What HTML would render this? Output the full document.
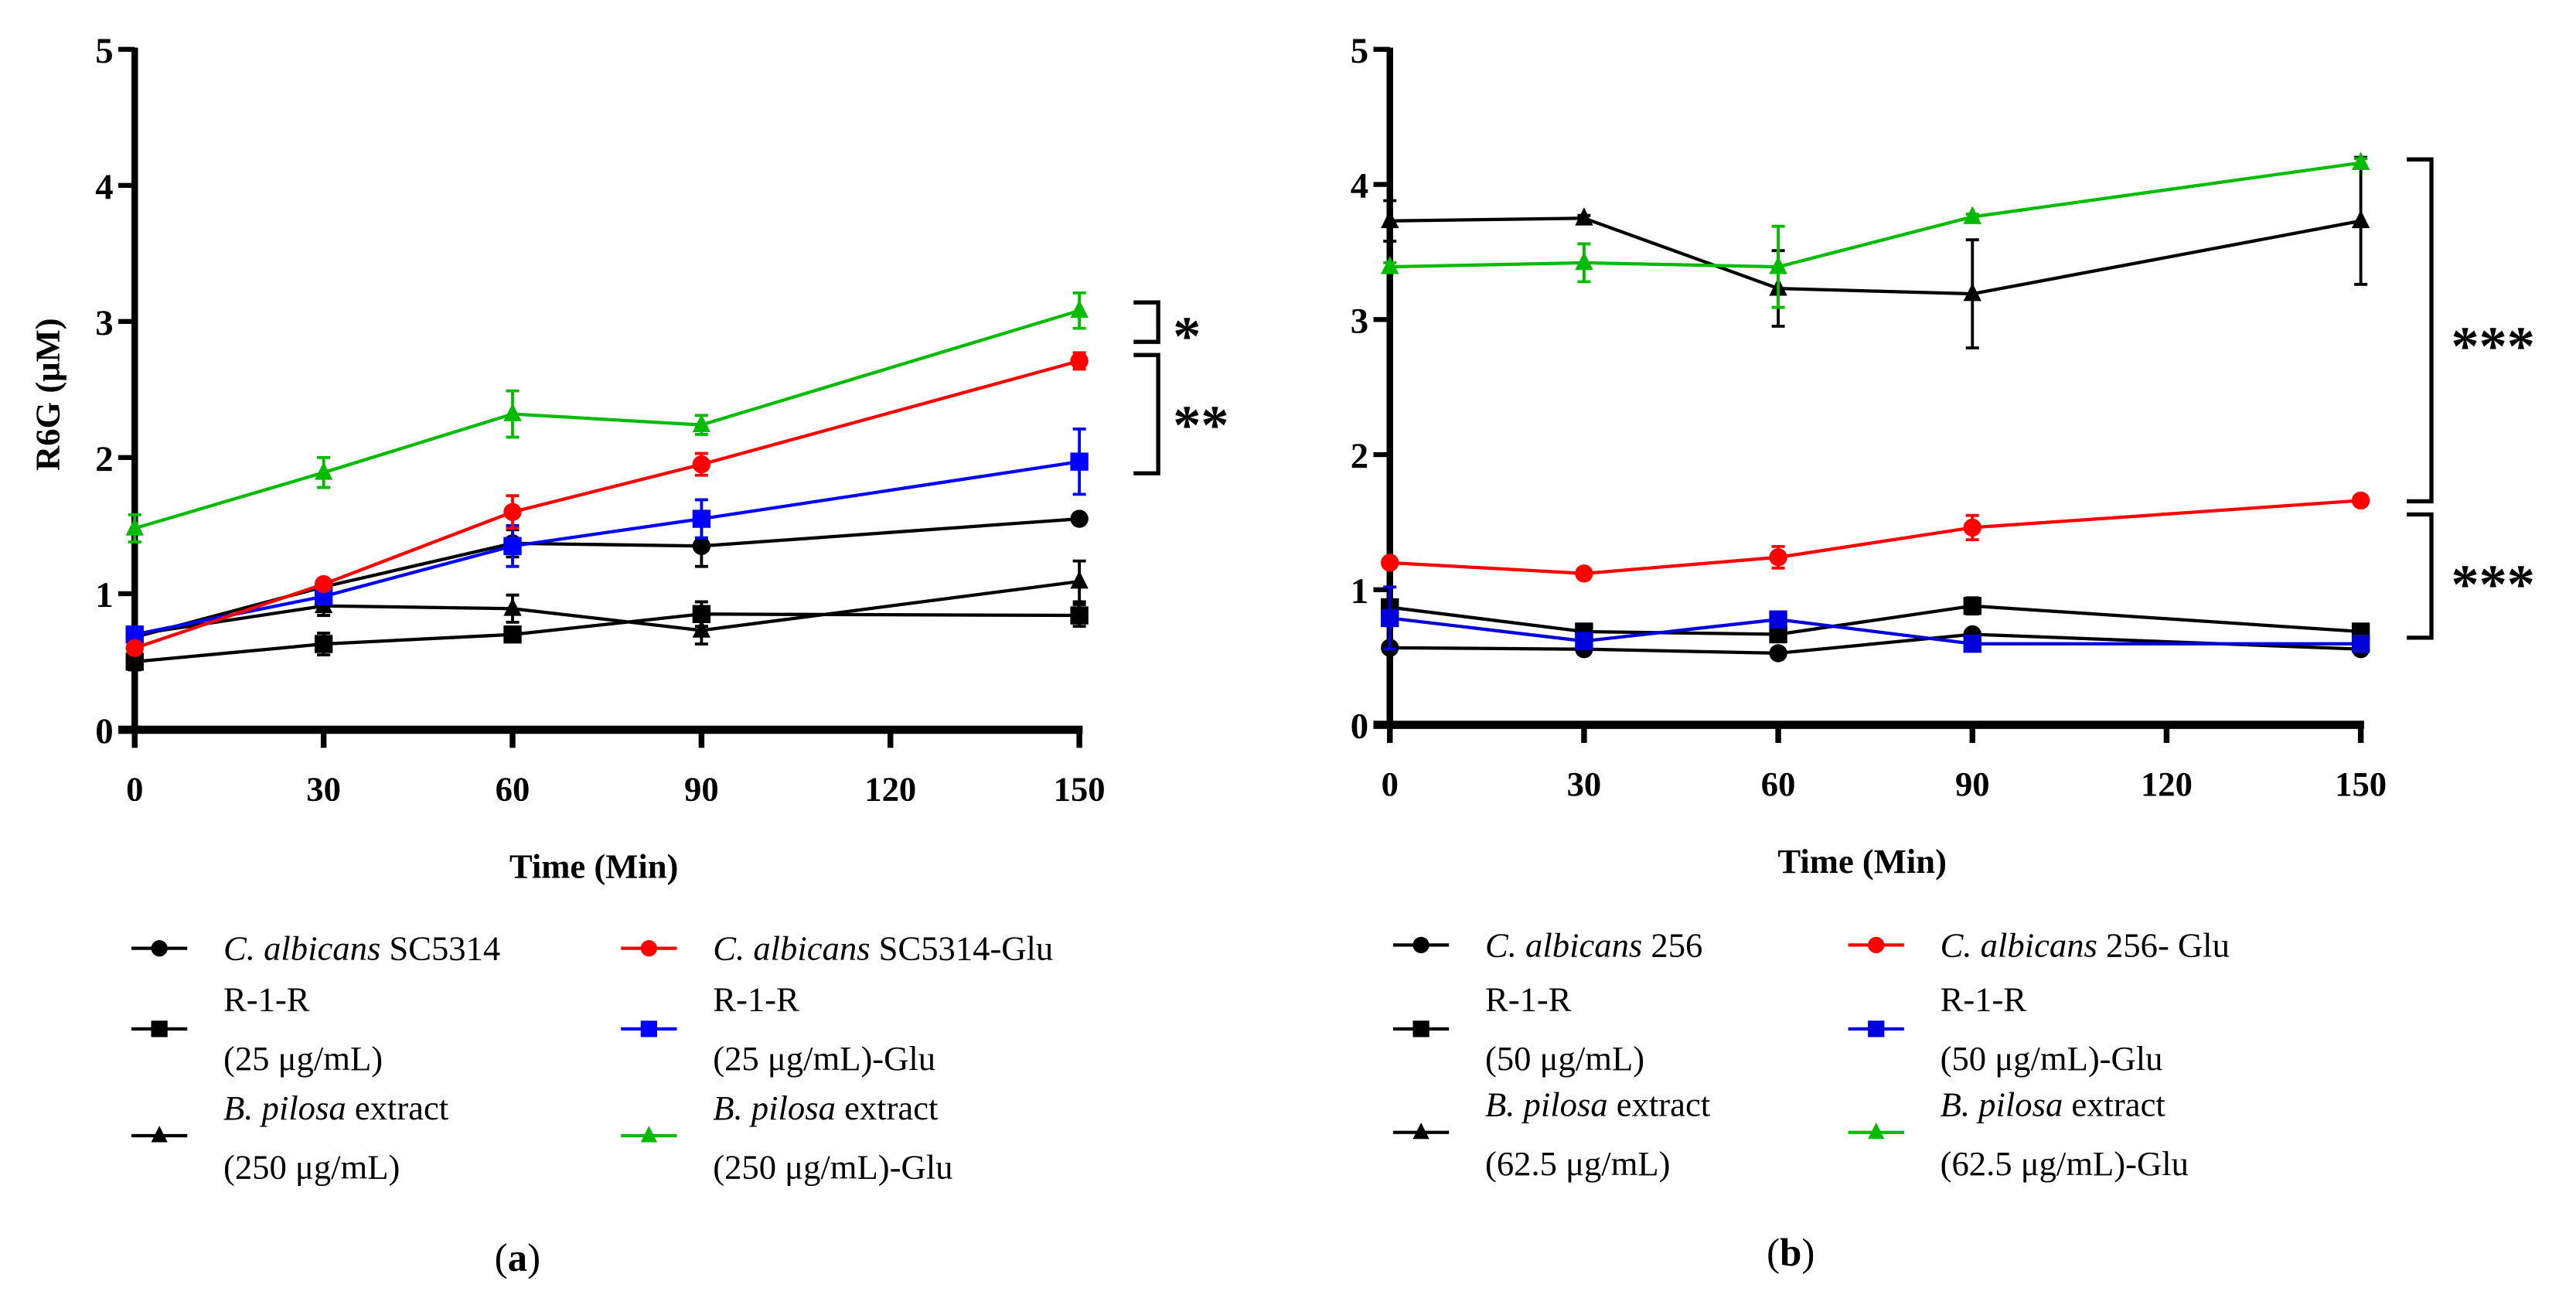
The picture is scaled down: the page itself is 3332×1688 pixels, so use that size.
<!DOCTYPE html>
<html><head><meta charset="utf-8"><style>
html,body{margin:0;padding:0;background:#fff;}
svg{display:block;}
text{font-family:"Liberation Serif",serif;}
</style></head><body>
<svg id="chart" width="3332" height="1688" viewBox="0 0 1568 794" preserveAspectRatio="none" xmlns="http://www.w3.org/2000/svg">
<g id="pa"></g>
<g id="pb"></g>
</svg>
<script>
const times = [0, 30, 60, 90, 150];
const xTicks = [0, 30, 60, 90, 120, 150];
const yTicks = [0, 1, 2, 3, 4, 5];
// Panel a values
const aCirc = [0.68, 1.05, 1.37, 1.35, 1.55];
const aCircErr = [0.02, 0.03, 0.1, 0.15, 0.02];
const aSq = [0.5, 0.63, 0.7, 0.85, 0.84];
const aSqErr = [0.06, 0.08, 0.03, 0.09, 0.08];
const aTri = [0.7, 0.91, 0.89, 0.73, 1.09];
const aTriErr = [0.03, 0.07, 0.1, 0.1, 0.15];
const aRed = [0.6, 1.07, 1.6, 1.95, 2.71];
const aRedErr = [0.03, 0.03, 0.12, 0.08, 0.06];
const aBlue = [0.7, 0.98, 1.35, 1.55, 1.97];
const aBlueErr = [0.03, 0.05, 0.15, 0.14, 0.24];
const aGreen = [1.48, 1.89, 2.32, 2.24, 3.08];
const aGreenErr = [0.1, 0.11, 0.17, 0.07, 0.13];
// Panel b values
const bCirc = [0.57, 0.56, 0.53, 0.67, 0.56];
const bCircErr = [0.02, 0.02, 0.02, 0.03, 0.02];
const bSq = [0.87, 0.69, 0.67, 0.88, 0.69];
const bSqErr = [0.05, 0.03, 0.03, 0.06, 0.02];
const bTri = [3.73, 3.75, 3.23, 3.19, 3.73];
const bTriErr = [0.15, 0.02, 0.28, 0.4, 0.47];
const bRed = [1.2, 1.12, 1.24, 1.46, 1.66];
const bRedErr = [0.03, 0.02, 0.08, 0.09, 0.02];
const bBlue = [0.79, 0.62, 0.78, 0.6, 0.6];
const bBlueErr = [0.23, 0.03, 0.03, 0.02, 0.03];
const bGreen = [3.39, 3.42, 3.39, 3.76, 4.16];
const bGreenErr = [0.03, 0.14, 0.3, 0.02, 0.03];

const NS = "http://www.w3.org/2000/svg";
function mk(parent, tag, attrs, txt){
  const e = document.createElementNS(NS, tag);
  for (const k in attrs) e.setAttribute(k, attrs[k]);
  if (txt !== undefined) e.textContent = txt;
  parent.appendChild(e);
  return e;
}
function marker(g, shape, cx, cy, color, s){
  let m;
  if (shape === 'circle') m = mk(g, 'circle', {cx: cx, cy: cy, r: s, fill: color});
  else if (shape === 'square') m = mk(g, 'rect', {x: cx - s, y: cy - s, width: 2*s, height: 2*s, fill: color});
  else m = mk(g, 'polygon', {points: `${cx},${cy - s*1.2} ${cx - s},${cy + s*0.8} ${cx + s},${cy + s*0.8}`, fill: color});
  return m;
}
function panel(gid, cfg){
  const g = document.getElementById(gid);
  const X = v => cfg.x0 + (cfg.x150 - cfg.x0) * v / 150;
  const Y = v => cfg.y0 - (cfg.y0 - cfg.y5) * v / 5;
  const ya = mk(g, 'line', {x1: cfg.x0, y1: cfg.y5 - 1, x2: cfg.x0, y2: cfg.y0 + 2, stroke: '#000', 'stroke-width': 4});
  
  
  const xa = mk(g, 'line', {x1: cfg.x0 - 10, y1: cfg.y0, x2: cfg.x150 + 2, y2: cfg.y0, stroke: '#000', 'stroke-width': 5});
  
  
  yTicks.forEach(v => {
    mk(g, 'line', {x1: cfg.x0 - 10, y1: Y(v), x2: cfg.x0, y2: Y(v), stroke: '#000', 'stroke-width': 3});
    const t = mk(g, 'text', {x: cfg.x0 - 13, y: Y(v) + 8, 'text-anchor': 'end', 'font-size': 22, 'font-weight': 'bold'}, v);
    
    
  });
  xTicks.forEach(v => {
    mk(g, 'line', {x1: X(v), y1: cfg.y0, x2: X(v), y2: cfg.y0 + 11, stroke: '#000', 'stroke-width': 3.5});
    const t = mk(g, 'text', {x: X(v), y: cfg.y0 + 43, 'text-anchor': 'middle', 'font-size': 21, 'font-weight': 'bold'}, v);
    
    
  });
  const xt = mk(g, 'text', {x: (cfg.x0 + cfg.x150)/2 - 8, y: cfg.y0 + 90, 'text-anchor': 'middle', 'font-size': 21, 'font-weight': 'bold'}, 'Time (Min)');
  
  
  cfg.series.forEach(s => {
    const sg = mk(g, 'g', {});
    
    
    s.vals.forEach((v, i) => {
      const x = X(times[i]), e = s.err[i];
      mk(sg, 'line', {x1: x, y1: Y(v + e), x2: x, y2: Y(v - e), stroke: s.color, 'stroke-width': 1.8});
      mk(sg, 'line', {x1: x - 4, y1: Y(v + e), x2: x + 4, y2: Y(v + e), stroke: s.color, 'stroke-width': 1.8});
      mk(sg, 'line', {x1: x - 4, y1: Y(v - e), x2: x + 4, y2: Y(v - e), stroke: s.color, 'stroke-width': 1.8});
    });
    mk(sg, 'polyline', {points: s.vals.map((v, i) => `${X(times[i])},${Y(v)}`).join(' '), fill: 'none', stroke: s.color, 'stroke-width': 2});
    s.vals.forEach((v, i) => {
      const m = marker(sg, s.shape, X(times[i]), Y(v), s.color, 5.5);
      
      
    });
  });
  cfg.brackets.forEach(b => {
    const bg = mk(g, 'g', {});
    
    
    mk(bg, 'polyline', {points: `${b.x1},${b.ya} ${b.x2},${b.ya} ${b.x2},${b.yb} ${b.x1},${b.yb}`, fill: 'none', stroke: '#000', 'stroke-width': 2.5});
    mk(bg, 'text', {x: b.tx, y: b.ty, 'font-size': 34, 'font-weight': 'bold', 'font-family': 'Liberation Sans, sans-serif'}, b.label);
  });
  cfg.legend.forEach(l => {
    const lg = mk(g, 'g', {});
    
    
    mk(lg, 'line', {x1: l.x, y1: l.y, x2: l.x + 34, y2: l.y, stroke: l.color, 'stroke-width': 2});
    marker(lg, l.shape, l.x + 17, l.y, l.color, 5);
    l.lines.forEach((ln, k) => {
      const t = mk(lg, 'text', {x: l.x + 56, y: l.ty + k * 36, 'font-size': 21});
      ln.forEach(part => {
        mk(t, 'tspan', part[1] ? {'font-style': 'italic'} : {}, part[0]);
      });
    });
  });
  const cap = mk(g, 'text', {x: cfg.capX, y: cfg.capY, 'text-anchor': 'middle', 'font-size': 24}, '');
  mk(cap, 'tspan', {}, '(');
  mk(cap, 'tspan', {'font-weight': 'bold'}, cfg.cap);
  mk(cap, 'tspan', {}, ')');
  
  
}

panel('pa', {
  x0: 82, x150: 657, y0: 444, y5: 30, capX: 315, capY: 773, cap: 'a',
  series: [
    {name: 'series-calbicans', vals: aCirc, err: aCircErr, color: '#000', shape: 'circle'},
    {name: 'series-r1r', vals: aSq, err: aSqErr, color: '#000', shape: 'square'},
    {name: 'series-bpilosa', vals: aTri, err: aTriErr, color: '#000', shape: 'tri'},
    {name: 'series-blue-glu', vals: aBlue, err: aBlueErr, color: '#0000ff', shape: 'square'},
    {name: 'series-red-glu', vals: aRed, err: aRedErr, color: '#ff0000', shape: 'circle'},
    {name: 'series-green-glu', vals: aGreen, err: aGreenErr, color: '#00bb00', shape: 'tri'}
  ],
  brackets: [
    {x1: 690, x2: 705, ya: 184, yb: 208, tx: 714, ty: 216, label: '*'},
    {x1: 690, x2: 705, ya: 216, yb: 288, tx: 714, ty: 270, label: '**'}
  ],
  legend: [
    {x: 80, y: 577, color: '#000', shape: 'circle', ty: 584, lines: [[['C. ', 1], ['albicans', 1], [' SC5314', 0]]]},
    {x: 80, y: 626, color: '#000', shape: 'square', ty: 615, lines: [[['R-1-R', 0]], [['(25 μg/mL)', 0]]]},
    {x: 80, y: 691, color: '#000', shape: 'tri', ty: 681, lines: [[['B. pilosa', 1], [' extract', 0]], [['(250 μg/mL)', 0]]]},
    {x: 378, y: 577, color: '#ff0000', shape: 'circle', ty: 584, lines: [[['C. albicans', 1], [' SC5314-Glu', 0]]]},
    {x: 378, y: 626, color: '#0000ff', shape: 'square', ty: 615, lines: [[['R-1-R', 0]], [['(25 μg/mL)-Glu', 0]]]},
    {x: 378, y: 691, color: '#00bb00', shape: 'tri', ty: 681, lines: [[['B. pilosa', 1], [' extract', 0]], [['(250 μg/mL)-Glu', 0]]]}
  ]
});
panel('pb', {
  x0: 846, x150: 1437, y0: 441, y5: 30, capX: 1090, capY: 770, cap: 'b',
  series: [
    {name: 'series-calbicans', vals: bCirc, err: bCircErr, color: '#000', shape: 'circle'},
    {name: 'series-r1r', vals: bSq, err: bSqErr, color: '#000', shape: 'square'},
    {name: 'series-bpilosa', vals: bTri, err: bTriErr, color: '#000', shape: 'tri'},
    {name: 'series-blue-glu', vals: bBlue, err: bBlueErr, color: '#0000dd', shape: 'square'},
    {name: 'series-red-glu', vals: bRed, err: bRedErr, color: '#ff0000', shape: 'circle'},
    {name: 'series-green-glu', vals: bGreen, err: bGreenErr, color: '#00bb00', shape: 'tri'}
  ],
  brackets: [
    {x1: 1465, x2: 1480, ya: 97, yb: 305, tx: 1492, ty: 222, label: '***'},
    {x1: 1465, x2: 1480, ya: 313, yb: 388, tx: 1492, ty: 367, label: '***'}
  ],
  legend: [
    {x: 848, y: 575, color: '#000', shape: 'circle', ty: 582, lines: [[['C. albicans', 1], [' 256', 0]]]},
    {x: 848, y: 626, color: '#000', shape: 'square', ty: 615, lines: [[['R-1-R', 0]], [['(50 μg/mL)', 0]]]},
    {x: 848, y: 689, color: '#000', shape: 'tri', ty: 679, lines: [[['B. pilosa', 1], [' extract', 0]], [['(62.5 μg/mL)', 0]]]},
    {x: 1125, y: 575, color: '#ff0000', shape: 'circle', ty: 582, lines: [[['C. albicans', 1], [' 256- Glu', 0]]]},
    {x: 1125, y: 626, color: '#0000dd', shape: 'square', ty: 615, lines: [[['R-1-R', 0]], [['(50 μg/mL)-Glu', 0]]]},
    {x: 1125, y: 689, color: '#00bb00', shape: 'tri', ty: 679, lines: [[['B. pilosa', 1], [' extract', 0]], [[' (62.5 μg/mL)-Glu', 0]]]}
  ]
});
const svg = document.getElementById('chart');
const yl = mk(svg, 'text', {x: 0, y: 0, transform: 'translate(36,240) rotate(-90)', 'text-anchor': 'middle', 'font-size': 21, 'font-weight': 'bold'}, 'R6G (μM)');


</script>
</body></html>
